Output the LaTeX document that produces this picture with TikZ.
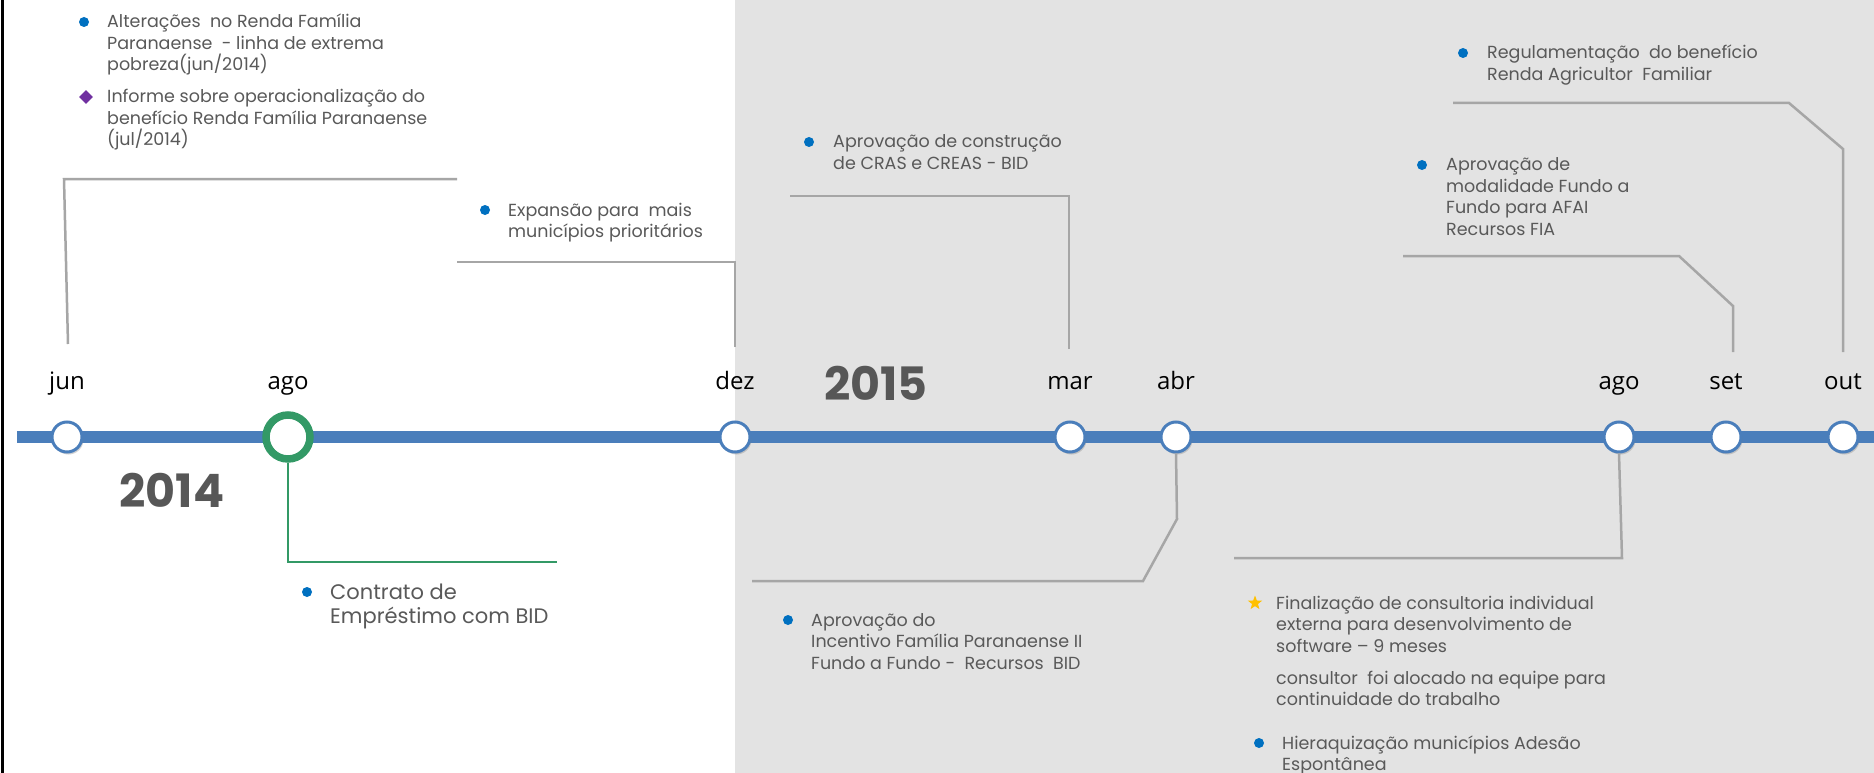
\documentclass[tikz,border=0pt]{standalone}
\usepackage{fontspec}
\setmainfont{Poppins}
\newfontfamily\monthfont{Open Sans}
\usetikzlibrary{shapes.geometric,shadows}
\definecolor{txt}{HTML}{595959}
\definecolor{barc}{HTML}{4A7EBB}
\definecolor{bgg}{HTML}{E3E3E3}
\definecolor{lineg}{HTML}{A6A6A6}
\definecolor{grn}{HTML}{339966}
\definecolor{dotb}{HTML}{0070C0}
\definecolor{purp}{HTML}{7030A0}
\definecolor{stary}{HTML}{FFC000}
\definecolor{yearc}{HTML}{575757}
\begin{document}
\begin{tikzpicture}[x=1pt,y=-1pt,
  evt/.style={circle,draw=barc,line width=3pt,fill=white,minimum size=30pt,inner sep=0pt,
    drop shadow={shadow xshift=1.5pt,shadow yshift=-2.5pt,opacity=0.35}},
  bigevt/.style={circle,draw=grn,line width=7.5pt,fill=white,minimum size=44pt,inner sep=0pt,
    drop shadow={shadow xshift=1.5pt,shadow yshift=-2.5pt,opacity=0.35}},
  month/.style={anchor=base,inner sep=0pt,font=\monthfont\fontsize{24}{27}\selectfont,text=black},
  year/.style={anchor=base,inner sep=0pt,font=\fontsize{46}{50}\selectfont\bfseries,text=yearc},
  info/.style={anchor=base west,inner sep=0pt,text=txt,font=\fontsize{17.5}{21.5}\selectfont},
  infobig/.style={anchor=base west,inner sep=0pt,text=txt,font=\fontsize{21}{24.5}\selectfont},
  dot/.style={circle,fill=dotb,minimum size=10pt,inner sep=0pt},
  dia/.style={diamond,fill=purp,minimum size=14pt,inner sep=0pt},
  stard/.style={star,star points=5,star point ratio=2.4,fill=stary,minimum size=15pt,inner sep=0pt},
  lk/.style={draw=lineg,line width=2.5pt},
  lkg/.style={draw=grn,line width=2.5pt}]
\useasboundingbox (0,0) rectangle (1874,773);
% backgrounds
\fill[white] (0,0) rectangle (735,773);
\fill[bgg] (735,0) rectangle (1874,773);
\fill[black] (1,0) rectangle (4,773);
% timeline bar
\fill[barc] (17,431) rectangle (1874,443);
% connectors (drawn before circles)
\coordinate (j1) at (68,344); \coordinate (j2) at (64,179); \coordinate (j3) at (457,179);
\draw[lk] (j1) -- (j2) -- (j3);
\coordinate (d1) at (735,347); \coordinate (d2) at (735,262); \coordinate (d3) at (457,262);
\draw[lk] (d1) -- (d2) -- (d3);
\coordinate (m1) at (1069,349); \coordinate (m2) at (1069,196); \coordinate (m3) at (790,196);
\draw[lk] (m1) -- (m2) -- (m3);
\coordinate (s1) at (1733,352); \coordinate (s2) at (1733,306); \coordinate (s3) at (1679,256); \coordinate (s4) at (1403,256);
\draw[lk] (s1) -- (s2) -- (s3) -- (s4);
\coordinate (o1) at (1843,352); \coordinate (o2) at (1843,149); \coordinate (o3) at (1789,103); \coordinate (o4) at (1453,103);
\draw[lk] (o1) -- (o2) -- (o3) -- (o4);
% events
\node[evt] (jun) at (67,437) {};
\node[bigevt] (ago) at (288,437) {};
\node[evt] (dez) at (735,437) {};
\node[evt] (mar) at (1070,437) {};
\node[evt] (abr) at (1176,437) {};
\node[evt] (agob) at (1619,437) {};
\node[evt] (set) at (1726,437) {};
\node[evt] (out) at (1843,437) {};
% lower connectors
\coordinate (g1) at (288,562); \coordinate (g2) at (557,562);
\draw[lkg] (ago.south) -- (g1) -- (g2);
\coordinate (a1) at (1177,519); \coordinate (a2) at (1143,581); \coordinate (a3) at (752,581);
\draw[lk] (abr.south) -- (a1) -- (a2) -- (a3);
\coordinate (b1) at (1622,558); \coordinate (b2) at (1234,558);
\draw[lk] (agob.south) -- (b1) -- (b2);
% month labels
\node[month] (ljun) at (67,389) {jun};
\node[month] (lago) at (288,389) {ago};
\node[month] (ldez) at (735,389) {dez};
\node[month] (lmar) at (1070,389) {mar};
\node[month] (labr) at (1176,389) {abr};
\node[month] (lagob) at (1619,389) {ago};
\node[month] (lset) at (1726,389) {set};
\node[month] (lout) at (1843,389) {out};
% years
\node[year] (y14) at (172,507) {2014};
\node[year] (y15) at (876,400) {2015};
% texts
\node[dot] (bA) at (84,22) {};
\node[info] (tA) at (107,28) {\parbox[t]{330pt}{\raggedright Alterações\ \ no Renda Família\\Paranaense\ \ - linha de extrema\\pobreza(jun/2014)}};
\node[dia] (bB) at (86,97) {};
\node[info] (tB) at (107,103) {\parbox[t]{340pt}{\raggedright Informe sobre operacionalização do\\benefício Renda Família Paranaense\\(jul/2014)}};
\node[dot] (bC) at (485,210) {};
\node[info] (tC) at (508,216) {\parbox[t]{220pt}{\raggedright Expansão para\ \ mais\\municípios prioritários}};
\node[dot] (bD) at (809,142) {};
\node[info] (tD) at (833,148) {\parbox[t]{240pt}{\raggedright Aprovação de construção\\de CRAS e CREAS - BID}};
\node[dot] (bE) at (1463,53) {};
\node[info] (tE) at (1487,59) {\parbox[t]{290pt}{\raggedright Regulamentação\ \ do benefício\\Renda Agricultor\ \ Familiar}};
\node[dot] (bF) at (1422,165) {};
\node[info] (tF) at (1446,171) {\parbox[t]{200pt}{\raggedright Aprovação de\\modalidade Fundo a\\Fundo para AFAI\\Recursos FIA}};
\node[dot] (bG) at (307,592) {};
\node[infobig] (tG) at (330,599) {\parbox[t]{250pt}{\raggedright Contrato de\\Empréstimo com BID}};
\node[dot] (bH) at (788,620) {};
\node[info] (tH) at (811,626) {\parbox[t]{320pt}{\raggedright Aprovação do\\Incentivo Família Paranaense II\\Fundo a Fundo -\ \ Recursos\ \ BID}};
\node[stard] (bI) at (1255,603) {};
\node[info] (tI) at (1276,609) {\parbox[t]{370pt}{\raggedright Finalização de consultoria individual\\externa para desenvolvimento de\\software – 9 meses}};
\node[info] (tJ) at (1276,684) {\parbox[t]{370pt}{\raggedright consultor\ \ foi alocado na equipe para\\continuidade do trabalho}};
\node[dot] (bK) at (1259,743) {};
\node[info] (tK) at (1282,749) {\parbox[t]{340pt}{\raggedright Hieraquização municípios Adesão\\Espontânea}};
\end{tikzpicture}
\end{document}
